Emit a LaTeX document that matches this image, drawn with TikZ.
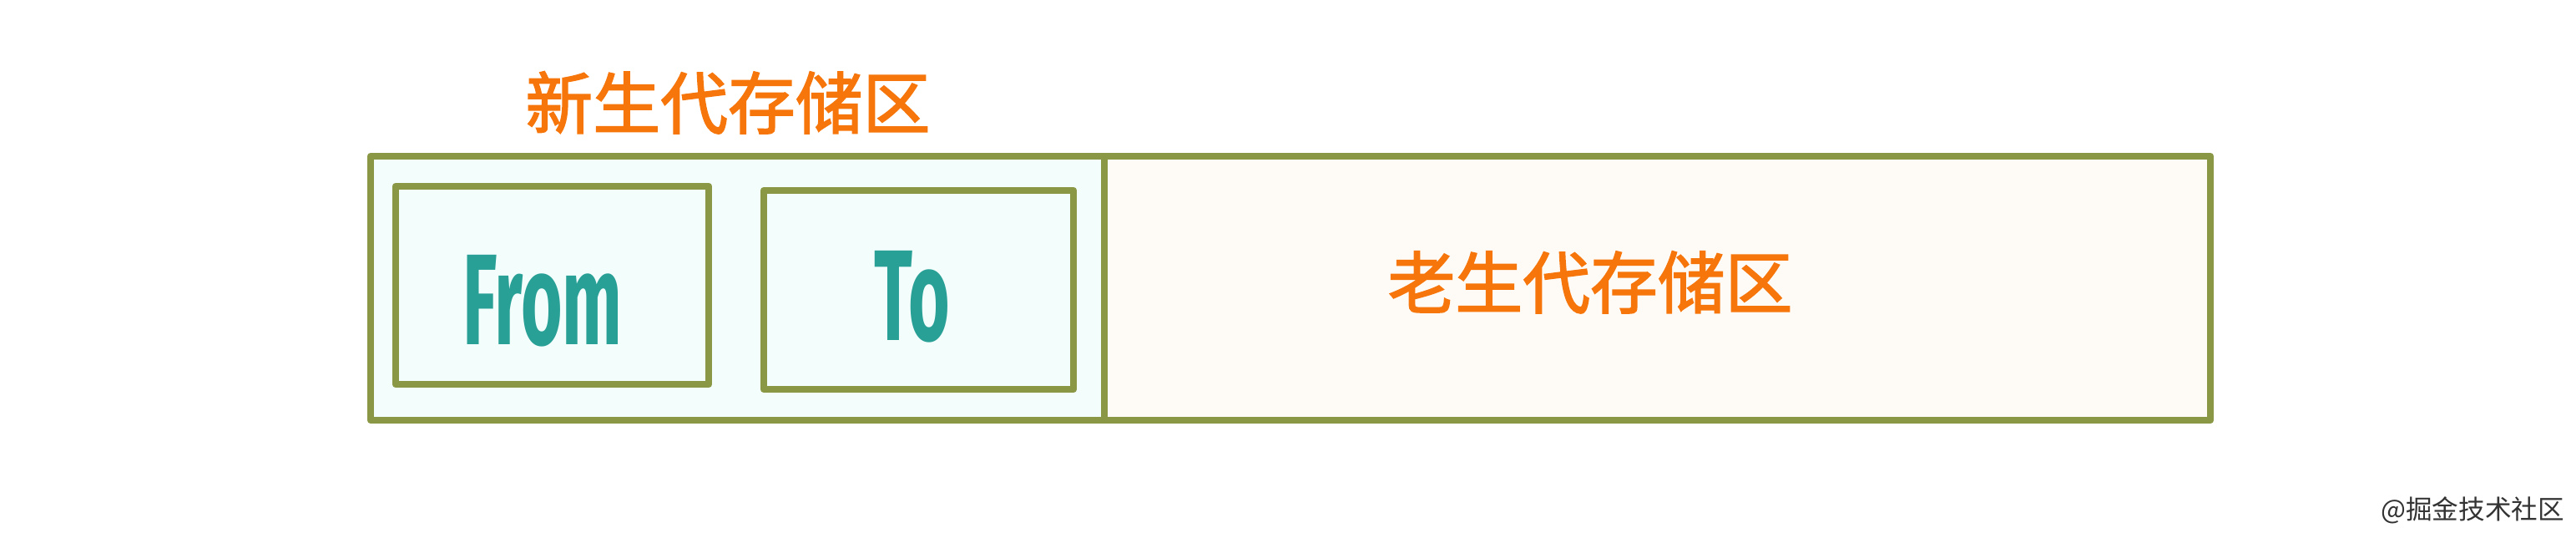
\documentclass[tikz,border=0pt]{standalone}
\usepackage{fontspec}
\setmainfont{Fira Sans}
\newfontfamily\cjk{Noto Sans CJK SC}
\newfontfamily\cjkheavy[FakeBold=2]{Noto Sans CJK SC}
\usetikzlibrary{calc}

\definecolor{heapolive}{RGB}{138,152,70}
\definecolor{youngfill}{RGB}{243,253,252}
\definecolor{oldfill}{RGB}{254,250,246}
\definecolor{genorange}{RGB}{246,118,12}
\definecolor{spaceteal}{RGB}{40,160,150}

\tikzset{
  heapline/.style={draw=heapolive, line width=2.4pt, line join=round},
  genlabel/.style={text=genorange, font=\cjkheavy\fontsize{23}{23}\selectfont},
  spacelabel/.style={text=spaceteal, font=\bfseries\fontsize{44}{44}\selectfont},
}

\begin{document}
\begin{tikzpicture}

\useasboundingbox (0, 0) rectangle (30.86, 6.38);

\fill[color=youngfill] (4.44, 1.35) rectangle (13.23, 4.51);
\fill[color=oldfill] (13.23, 1.35) rectangle (26.48, 4.51);

\draw[heapline] (4.44, 1.35) rectangle (26.48, 4.51);
\draw[heapline] (13.23, 1.35) -- (13.23, 4.51);

\draw[heapline] (4.74, 1.78) rectangle (8.49, 4.15);
\draw[heapline] (9.15, 1.72) rectangle (12.86, 4.10);

\node[spacelabel] (from) at (6.50, 2.78) {\scalebox{0.55}[1]{From}};
\node[spacelabel] (to) at (10.93, 2.83) {\scalebox{0.55}[1]{To}};

\node[genlabel] (young) at (8.72, 5.15) {新生代存储区};
\node[genlabel] (old) at (19.05, 3.00) {老生代存储区};

\node[text=black!80, font=\cjk\fontsize{9}{9}\selectfont] (mark) at (29.62, 0.27) {@掘金技术社区};

\end{tikzpicture}
\end{document}
